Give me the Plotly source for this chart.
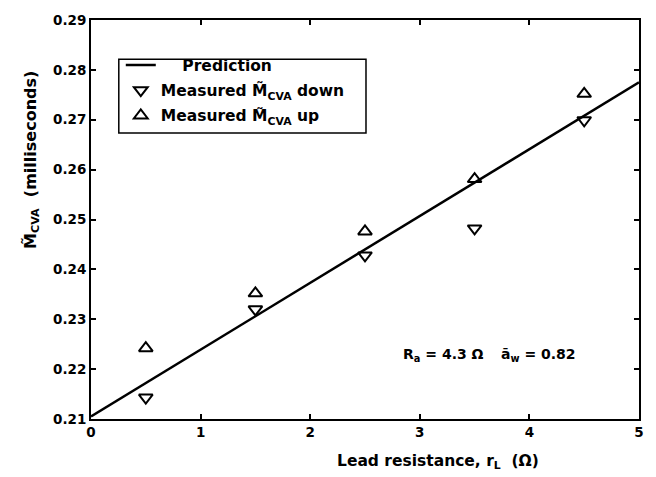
import plotly.graph_objects as go

# Lead resistance settings (ohm) at which the CVA was measured
r_lead = [0.5, 1.5, 2.5, 3.5, 4.5]
# Measured M~CVA (ms), sweeping down and up
m_down = [0.2143, 0.2320, 0.2428, 0.2482, 0.2699]
m_up = [0.2242, 0.2352, 0.2476, 0.2581, 0.2752]
# Model prediction
pred_r = [0, 1, 2, 3, 4, 5]
pred_m = [0.2105, 0.2239, 0.2373, 0.2507, 0.2641, 0.2775]

x_ticks = [0, 1, 2, 3, 4, 5]
y_ticks = [0.21, 0.22, 0.23, 0.24, 0.25, 0.26, 0.27, 0.28, 0.29]

FONT = "DejaVu Sans, Verdana, sans-serif"
BLACK = "#000000"
NBSP = "\u00a0"

# plot-area geometry in pixels (used to place paper-referenced items)
W, H = 656, 477
ML, MR, MT, MB = 91, 13, 13, 58
PW, PH = W - ML - MR, H - MT - MB


def px(x):
    return (x - ML) / PW


def py(y):
    return 1 - (y - MT) / PH


fig = go.Figure()
fig.add_trace(go.Scatter(
    x=pred_r, y=pred_m, mode="lines", name=NBSP * 4 + "Prediction",
    legendgroup="pred", line=dict(color=BLACK, width=2.5),
))
fig.add_trace(go.Scatter(
    x=r_lead, y=m_down, mode="markers", legendgroup="down",
    name="Measured M\u0303<sub>CVA</sub> down",
    marker=dict(symbol="triangle-down-open", size=12, color=BLACK,
                line=dict(width=2, color=BLACK)),
))
fig.add_trace(go.Scatter(
    x=r_lead, y=m_up, mode="markers", legendgroup="up",
    name="Measured M\u0303<sub>CVA</sub> up",
    marker=dict(symbol="triangle-up-open", size=12, color=BLACK,
                line=dict(width=2, color=BLACK)),
))

axis_common = dict(
    showgrid=False, zeroline=False, showline=True, linecolor=BLACK,
    linewidth=2, mirror="ticks", ticks="inside", ticklen=5, tickwidth=1.5,
    tickcolor=BLACK,
    tickfont=dict(family=FONT, size=13.5, color=BLACK, weight="bold"),
)

fig.update_xaxes(range=[0, 5], tickvals=x_ticks, ticktext=[str(v) for v in x_ticks],
                 **axis_common)
fig.update_yaxes(range=[0.21, 0.29], tickvals=y_ticks,
                 ticktext=[f"{v:.2f}" for v in y_ticks], **axis_common)

text_font = dict(family=FONT, size=15.5, color=BLACK, weight="bold")
note_font = dict(family=FONT, size=14, color=BLACK, weight="bold")

fig.update_layout(
    width=W, height=H,
    margin=dict(l=ML, r=MR, t=MT, b=MB),
    paper_bgcolor="white", plot_bgcolor="white",
    showlegend=True,
    legend=dict(
        x=px(121), y=py(42), xanchor="left", yanchor="top",
        bgcolor="rgba(0,0,0,0)", borderwidth=0,
        font=text_font, itemwidth=30, tracegroupgap=2,
    ),
    shapes=[
        # legend frame
        dict(type="rect", xref="paper", yref="paper",
             x0=px(119), x1=px(368), y0=py(128), y1=py(53),
             line=dict(color=BLACK, width=1.5), fillcolor="white", layer="below"),
    ],
    annotations=[
        dict(text="Lead resistance, r<sub>L</sub>  (\u03a9)", xref="x", yref="paper",
             x=2.23, y=py(463), xanchor="left", yanchor="middle",
             showarrow=False, font=text_font),
        dict(text="M\u0303<sub>CVA</sub>  (milliseconds)", xref="paper", yref="paper",
             x=px(31), y=py(155), xanchor="center", yanchor="middle",
             textangle=-90, showarrow=False, font=dict(text_font, size=16)),
        dict(text="R<sub>a</sub> = 4.3 \u03a9", xref="x", yref="y",
             x=2.83, y=0.2228, xanchor="left", yanchor="middle",
             showarrow=False, font=note_font),
        dict(text="\u0101<sub>w</sub> = 0.82", xref="x", yref="y",
             x=3.72, y=0.2228, xanchor="left", yanchor="middle",
             showarrow=False, font=note_font),
    ],
)

fig.write_html("out.html")
